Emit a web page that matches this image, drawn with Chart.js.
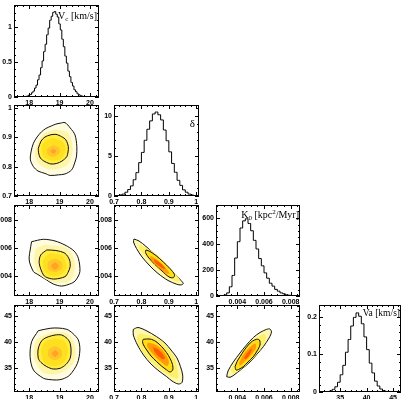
<!DOCTYPE html>
<html>
<head>
<meta charset="utf-8">
<script src="https://cdn.jsdelivr.net/npm/chart.js@4.4.1/dist/chart.umd.min.js"></script>
<style>
  html, body { margin: 0; padding: 0; background: #fff; }
  body { position: relative; width: 403px; height: 399px; overflow: hidden; }
  canvas { position: absolute; }
</style>
</head>
<body>
<script>
// ---- 1D histograms (bin centre / height) ----
const vcX = [17.75,17.80,17.85,17.90,17.95,18.00,18.05,18.10,18.15,18.20,18.25,18.30,18.35,18.40,18.45,18.50,18.55,18.60,18.65,18.70,18.75,18.80,18.85,18.90,18.95,19.00,19.05,19.10,19.15,19.20,19.25,19.30,19.35,19.40,19.45,19.50,19.55,19.60,19.65,19.70,19.75,19.80,19.85,19.90,19.95];
const vcY = [0.002,0.003,0.006,0.009,0.014,0.026,0.036,0.061,0.084,0.128,0.171,0.247,0.316,0.421,0.518,0.651,0.757,0.893,0.989,1.102,1.158,1.214,1.226,1.188,1.147,1.049,0.962,0.829,0.722,0.587,0.486,0.371,0.292,0.209,0.158,0.104,0.077,0.047,0.033,0.019,0.013,0.007,0.004,0.002,0];

const dX = [0.705,0.715,0.725,0.735,0.745,0.755,0.765,0.775,0.785,0.795,0.805,0.815,0.825,0.835,0.845,0.855,0.865,0.875,0.885,0.895,0.905,0.915,0.925,0.935,0.945,0.955,0.965,0.975,0.985,0.995];
const dY = [0.03,0.06,0.14,0.24,0.47,0.81,1.27,2.04,2.93,4.18,5.46,6.98,8.36,9.41,10.28,10.52,10.18,9.53,8.27,6.92,5.53,4.08,2.97,1.96,1.33,0.77,0.47,0.24,0.13,0.06];

const kX = [0.0027,0.0029,0.0031,0.0033,0.0035,0.0037,0.0039,0.0041,0.0043,0.0045,0.0047,0.0049,0.0051,0.0053,0.0055,0.0057,0.0059,0.0061,0.0063,0.0065,0.0067,0.0069,0.0071,0.0073,0.0075,0.0077,0.0079,0.0081,0.0083,0.0085];
const kY = [0,2,9,24,71,158,292,418,523,578,594,558,502,428,362,288,232,178,137,98,76,51,37,24,17,10,6,3,1,0];

const vaX = [32.25,32.75,33.25,33.75,34.25,34.75,35.25,35.75,36.25,36.75,37.25,37.75,38.25,38.75,39.25,39.75,40.25,40.75,41.25,41.75,42.25,42.75,43.25,43.75,44.25];
const vaY = [0.0005,0.0013,0.003,0.007,0.014,0.026,0.046,0.071,0.106,0.140,0.176,0.199,0.211,0.202,0.182,0.147,0.113,0.077,0.051,0.029,0.016,0.008,0.004,0.0015,0.0005];

// ---- 2D contours, outer -> inner ----
// delta vs Vc
const aOuter = [[19.02,0.948],[19.18,0.950],[19.35,0.932],[19.51,0.908],[19.57,0.868],[19.56,0.836],[19.51,0.816],[19.40,0.789],[19.18,0.775],[18.96,0.772],[18.69,0.770],[18.52,0.777],[18.29,0.785],[18.14,0.800],[18.04,0.823],[18.06,0.850],[18.14,0.880],[18.26,0.901],[18.41,0.919],[18.55,0.930],[18.74,0.939],[18.88,0.945]];
const aMid = [[18.88,0.927],[19.31,0.911],[19.43,0.857],[19.25,0.806],[18.72,0.790],[18.32,0.809],[18.19,0.848],[18.46,0.910]];
const aInner = [[18.30,0.862],[18.39,0.887],[18.52,0.901],[18.69,0.908],[18.88,0.910],[19.07,0.902],[19.21,0.891],[19.29,0.868],[19.28,0.850],[19.24,0.834],[19.08,0.819],[18.91,0.811],[18.72,0.809],[18.52,0.817],[18.37,0.829],[18.31,0.847]];
const aBright = [[18.80,0.898],[19.11,0.884],[19.20,0.857],[19.05,0.828],[18.75,0.821],[18.46,0.836],[18.41,0.867],[18.55,0.889]];
const aOrange = [[18.80,0.874],[18.98,0.864],[19.00,0.847],[18.82,0.834],[18.62,0.840],[18.60,0.861]];
const aDeep = [[18.80,0.862],[18.90,0.853],[18.80,0.843],[18.70,0.853]];

// K0 vs Vc
const bOuter = [[18.08,0.00648],[18.47,0.00665],[18.85,0.00653],[19.18,0.00624],[19.48,0.00581],[19.62,0.00529],[19.67,0.00434],[19.54,0.00374],[19.40,0.00351],[19.07,0.00331],[18.79,0.00346],[18.58,0.00374],[18.26,0.00417],[18.14,0.00434],[18.00,0.00517],[18.05,0.00612]];
const bMid = [[18.52,0.00627],[19.28,0.00596],[19.51,0.00481],[19.35,0.00371],[18.85,0.00356],[18.36,0.00410],[18.17,0.00503],[18.23,0.00596]];
const bInner = [[18.58,0.00589],[18.88,0.00585],[19.18,0.00565],[19.33,0.00517],[19.35,0.00469],[19.28,0.00428],[19.18,0.00398],[18.85,0.00381],[18.62,0.00389],[18.47,0.00410],[18.33,0.00494],[18.38,0.00553]];
const bBright = [[18.69,0.00567],[19.08,0.00546],[19.23,0.00474],[19.08,0.00417],[18.75,0.00403],[18.49,0.00446],[18.46,0.00517]];
const bOrange = [[18.85,0.00528],[19.07,0.00503],[19.08,0.00456],[18.85,0.00431],[18.62,0.00453],[18.64,0.00506]];
const bDeep = [[18.85,0.00503],[18.98,0.00474],[18.85,0.00446],[18.72,0.00474]];

// K0 vs delta
const cOuter = [[0.7729,0.00667],[0.7912,0.00653],[0.8167,0.00614],[0.8557,0.00544],[0.8896,0.00481],[0.9225,0.00417],[0.9443,0.00371],[0.9527,0.00349],[0.9443,0.00339],[0.9287,0.00344],[0.8969,0.00371],[0.8605,0.00421],[0.8313,0.00474],[0.8021,0.00539],[0.7821,0.00599],[0.7711,0.00646]];
const cMid = [[0.7948,0.00628],[0.8532,0.00560],[0.9115,0.00446],[0.9407,0.00374],[0.9261,0.00364],[0.8678,0.00442],[0.8131,0.00546],[0.7912,0.00603]];
const cInner = [[0.8167,0.00589],[0.8313,0.00578],[0.8532,0.00549],[0.8798,0.00503],[0.9042,0.00456],[0.9206,0.00414],[0.9163,0.00391],[0.9006,0.00396],[0.8751,0.00439],[0.8495,0.00485],[0.8276,0.00531],[0.8149,0.00571]];
const cOrange = [[0.8349,0.00546],[0.8605,0.00514],[0.8896,0.00456],[0.9024,0.00421],[0.8915,0.00421],[0.8641,0.00460],[0.8386,0.00510],[0.8313,0.00535]];
const cRed = [[0.8459,0.00524],[0.8714,0.00492],[0.8878,0.00456],[0.8751,0.00460],[0.8495,0.00499]];

// Va vs Vc
const dOuter = [[18.30,42.17],[18.69,42.63],[18.95,42.68],[19.24,42.43],[19.44,41.63],[19.62,40.38],[19.67,38.46],[19.59,35.91],[19.34,33.66],[19.11,32.90],[18.91,32.70],[18.65,32.80],[18.47,33.03],[18.14,34.62],[18.03,37.18],[18.08,40.05]];
const dMid = [[18.75,41.92],[19.28,41.53],[19.53,38.85],[19.46,35.97],[19.02,34.05],[18.49,34.05],[18.16,36.93],[18.24,40.38]];
const dInner = [[18.63,41.01],[18.85,41.34],[19.07,41.34],[19.25,40.67],[19.35,39.75],[19.38,38.27],[19.35,36.87],[19.21,35.68],[19.02,34.95],[18.79,34.81],[18.58,35.26],[18.39,36.06],[18.30,36.87],[18.29,38.46],[18.36,39.75],[18.47,40.57]];
const dBright = [[18.85,40.67],[19.16,40.19],[19.28,38.46],[19.18,36.35],[18.88,35.39],[18.52,35.97],[18.39,38.08],[18.52,40.0]];
const dOrange = [[18.85,39.23],[19.05,38.56],[19.07,37.21],[18.85,36.54],[18.64,37.12],[18.64,38.56]];
const dDeep = [[18.85,38.46],[18.97,37.79],[18.85,37.12],[18.74,37.79]];

// Va vs delta
const eOuter = [[0.7704,42.43],[0.7875,42.78],[0.8167,42.20],[0.8557,41.01],[0.8860,39.80],[0.9079,38.46],[0.9298,36.93],[0.9425,35.26],[0.9505,33.66],[0.9480,32.22],[0.9345,31.94],[0.9115,32.51],[0.8922,33.34],[0.8641,34.43],[0.8349,35.77],[0.8076,37.50],[0.7857,39.42],[0.7704,41.34]];
const eMid = [[0.7948,41.63],[0.8641,40.57],[0.9188,37.12],[0.9334,33.09],[0.9115,33.28],[0.8568,35.20],[0.7985,38.46],[0.7839,40.76]];
const eInner = [[0.8069,40.52],[0.8313,40.57],[0.8532,40.09],[0.8740,39.10],[0.8915,37.98],[0.9042,36.87],[0.9134,35.68],[0.9141,34.62],[0.9042,34.24],[0.8922,34.62],[0.8732,35.39],[0.8557,36.22],[0.8349,37.31],[0.8193,38.46],[0.8076,39.42],[0.8039,40.09]];
const eOrange = [[0.8240,39.90],[0.8532,39.42],[0.8823,38.08],[0.9006,36.16],[0.8933,35.39],[0.8678,36.35],[0.8386,37.89],[0.8204,39.23]];
const eRed = [[0.8422,39.04],[0.8641,38.46],[0.8860,36.93],[0.8751,36.73],[0.8495,37.98]];

// Va vs K0
const fOuter = [[0.00320,33.34],[0.00330,34.43],[0.00370,36.16],[0.00420,37.89],[0.00465,39.33],[0.00520,40.86],[0.00570,41.82],[0.00620,42.43],[0.00645,42.49],[0.00656,41.92],[0.00638,40.76],[0.00595,39.10],[0.00548,37.69],[0.00495,36.16],[0.00428,34.72],[0.00375,33.66],[0.00345,33.22]];
const fMid = [[0.00349,34.62],[0.00420,37.50],[0.00510,40.09],[0.00600,41.53],[0.00615,40.38],[0.00533,37.31],[0.00435,34.91],[0.00368,33.95]];
const fInner = [[0.00383,35.26],[0.00398,36.25],[0.00420,37.18],[0.00450,38.37],[0.00482,39.42],[0.00514,40.19],[0.00545,40.52],[0.00566,40.38],[0.00570,39.42],[0.00548,38.27],[0.00520,37.18],[0.00480,36.16],[0.00445,35.26],[0.00409,34.72],[0.00390,34.62]];
const fOrange = [[0.00413,35.97],[0.00443,37.50],[0.00488,38.85],[0.00533,39.71],[0.00540,38.85],[0.00503,37.50],[0.00458,36.35],[0.00420,35.49]];
const fRed = [[0.00450,36.93],[0.00480,38.08],[0.00510,38.75],[0.00495,37.69],[0.00465,36.73]];

// ---- axes: ticks + labels ----
const vcTicks = [18, 19, 20],           vcLabels = ['18', '19', '20'];
const dTicks = [0.7, 0.8, 0.9, 1],      dLabels = ['0.7', '0.8', '0.9', '1'];
const kTicks = [0.004, 0.006, 0.008],   kLabelsX = ['0.004', '0.006', '0.008'], kLabelsY = ['.004', '.006', '.008'];
const vaTicks = [35, 40, 45],           vaLabels = ['35', '40', '45'];
const vcHTicks = [0, 0.5, 1],           vcHLabels = ['0', '0.5', '1'];
const dHTicks = [0, 5, 10],             dHLabels = ['0', '5', '10'];
const kHTicks = [0, 200, 400, 600],     kHLabels = ['0', '200', '400', '600'];
const vaHTicks = [0, 0.1, 0.2],         vaHLabels = ['0', '0.1', '0.2'];

// ---- layout of the pads (frame pixels) ----
const colFrames = [[14, 99], [114, 199], [216, 300], [319, 401]];
const rowFrames = [[5, 97], [105, 196], [205, 296], [305, 392]];
const PAD_L = 17, PAD_T = 5, PAD_R = 3, PAD_B = 12;

const WIDE = ['#fffce0', '#fff5a8', '#ffec3c', '#ffe020', '#ffc52a', '#ffa524'];
const NARROW = ['#fff8ae', '#fff06a', '#ffdc14', '#ff9a08', '#ff5a00'];

const AX = {
  vc:  { range: [17.5, 20.3],      ticks: vcTicks, labels: vcLabels, minor: 0.2 },
  d:   { range: [0.7, 1.01],       ticks: dTicks,  labels: dLabels,  minor: 0.02 },
  kx:  { range: [0.0024, 0.0087],  ticks: kTicks,  labels: kLabelsX, minor: 0.0005 },
  ky:  { range: [0.0026, 0.0091],  ticks: kTicks,  labels: kLabelsY, minor: 0.0005 },
  vax: { range: [31, 46.5],        ticks: vaTicks, labels: vaLabels, minor: 1 },
  vay: { range: [30.4, 47.1],      ticks: vaTicks, labels: vaLabels, minor: 1 },
  vcH: { range: [0, 1.32],         ticks: vcHTicks, labels: vcHLabels, minor: 0.1 },
  dH:  { range: [0, 11.4],         ticks: dHTicks,  labels: dHLabels,  minor: 1 },
  kH:  { range: [0, 700],          ticks: kHTicks,  labels: kHLabels,  minor: 50 },
  vaH: { range: [0, 0.232],        ticks: vaHTicks, labels: vaHLabels, minor: 0.02 }
};

function hist(xs, ys) {
  return {
    data: xs.map((x, i) => ({ x: x, y: ys[i] })),
    showLine: true, stepped: 'middle', borderColor: '#000', borderWidth: 1,
    pointRadius: 0, fill: false, order: 0
  };
}

function blob(pts, color, outline, order) {
  const d = pts.map(p => ({ x: p[0], y: p[1] }));
  d.push({ x: pts[0][0], y: pts[0][1] });
  return {
    data: d, showLine: true, fill: 'shape', tension: 0.3,
    backgroundColor: color, borderColor: outline ? '#111' : color,
    borderWidth: outline ? 1 : 0, pointRadius: 0, order: order
  };
}

// list of [points, colour, outlined], outer first
function layers(list) {
  return list.map((l, i) => blob(l[0], l[1], l[2], list.length - i + 1));
}

function minorList(min, max, step) {
  const out = [];
  for (let k = Math.ceil(min / step - 1e-6); k * step <= max + 1e-9; k++) out.push(k * step);
  return out;
}

// ROOT-like frame: box, inward ticks on all four sides, title text
const rootFrame = {
  id: 'rootFrame',
  afterDatasetsDraw(chart, args, opts) {
    const { ctx, chartArea: a, scales: { x, y } } = chart;
    ctx.save();
    ctx.strokeStyle = '#000';
    ctx.lineWidth = 1;
    ctx.strokeRect(a.left + 0.5, a.top + 0.5, a.right - a.left - 1, a.bottom - a.top - 1);
    ctx.beginPath();
    const xa = opts.xa, ya = opts.ya;
    minorList(xa.range[0], xa.range[1], xa.minor).forEach(v => {
      const major = xa.ticks.some(t => Math.abs(t - v) < xa.minor / 10);
      const L = major ? 4 : 2;
      const px = Math.round(x.getPixelForValue(v)) + 0.5;
      ctx.moveTo(px, a.bottom); ctx.lineTo(px, a.bottom - L);
      ctx.moveTo(px, a.top); ctx.lineTo(px, a.top + L);
    });
    minorList(ya.range[0], ya.range[1], ya.minor).forEach(v => {
      const major = ya.ticks.some(t => Math.abs(t - v) < ya.minor / 10);
      const L = major ? 4 : 2;
      const py = Math.round(y.getPixelForValue(v)) + 0.5;
      ctx.moveTo(a.left, py); ctx.lineTo(a.left + L, py);
      ctx.moveTo(a.right, py); ctx.lineTo(a.right - L, py);
    });
    ctx.stroke();
    if (opts.title) {
      const T = opts.title;
      const fnt = p => p[1] + 'px "Liberation Serif", "DejaVu Serif", serif';
      let w = 0;
      T.parts.forEach(p => { ctx.font = fnt(p); w += ctx.measureText(p[0]).width; });
      let tx = a.right - T.dx - w;
      ctx.fillStyle = '#000';
      ctx.textBaseline = 'alphabetic';
      T.parts.forEach(p => {
        ctx.font = fnt(p);
        ctx.fillText(p[0], tx, a.top + T.dy + (p[2] || 0));
        tx += ctx.measureText(p[0]).width;
      });
    }
    ctx.restore();
  }
};

function axisCfg(ax, isX) {
  return {
    type: 'linear', min: ax.range[0], max: ax.range[1], bounds: 'data',
    afterBuildTicks: s => { s.ticks = ax.ticks.map(v => ({ value: v })); },
    afterFit: s => {
      if (isX) s.height = PAD_B; else s.width = PAD_L;
      s.paddingLeft = 0; s.paddingRight = 0; s.paddingTop = 0; s.paddingBottom = 0;
    },
    grid: { display: false, drawTicks: false },
    border: { display: false },
    ticks: {
      color: '#000', padding: isX ? 2 : 2, autoSkip: false, maxRotation: 0, minRotation: 0,
      font: { family: 'Liberation Sans', size: 7, weight: 'bold' },
      callback: (v, i) => ax.labels[i]
    }
  };
}

function panel(c, r, xa, ya, datasets, title) {
  const [fl, fr] = colFrames[c];
  const [ft, fb] = rowFrames[r];
  const W = fr - fl + PAD_L + PAD_R, H = fb - ft + PAD_T + PAD_B;
  const cv = document.createElement('canvas');
  cv.width = W; cv.height = H;
  cv.style.left = (fl - PAD_L) + 'px';
  cv.style.top = (ft - PAD_T) + 'px';
  cv.style.width = W + 'px';
  cv.style.height = H + 'px';
  document.body.appendChild(cv);
  new Chart(cv, {
    type: 'scatter',
    data: { datasets: datasets },
    options: {
      responsive: false, animation: false, devicePixelRatio: 1, events: [],
      layout: { padding: { left: 0, top: PAD_T, right: PAD_R, bottom: 0 } },
      plugins: {
        legend: { display: false }, tooltip: { enabled: false },
        rootFrame: { xa: xa, ya: ya, title: title }
      },
      scales: { x: axisCfg(xa, true), y: axisCfg(ya, false) }
    },
    plugins: [rootFrame]
  });
}

// row 0
panel(0, 0, AX.vc, AX.vcH, [hist(vcX, vcY)],
  { parts: [['V', 10], ['c', 7, 2], [' [km/s]', 10]], dx: 2, dy: 14 });

// row 1
panel(0, 1, AX.vc, AX.d, layers([[aOuter, WIDE[0], true], [aMid, WIDE[1], false], [aInner, WIDE[2], true],
  [aBright, WIDE[3], false], [aOrange, WIDE[4], false], [aDeep, WIDE[5], false]]));
panel(1, 1, AX.d, AX.dH, [hist(dX, dY)],
  { parts: [['\u03b4', 11]], dx: 4, dy: 22 });

// row 2
panel(0, 2, AX.vc, AX.ky, layers([[bOuter, WIDE[0], true], [bMid, WIDE[1], false], [bInner, WIDE[2], true],
  [bBright, WIDE[3], false], [bOrange, WIDE[4], false], [bDeep, WIDE[5], false]]));
panel(1, 2, AX.d, AX.ky, layers([[cOuter, NARROW[0], true], [cMid, NARROW[1], false], [cInner, NARROW[2], true],
  [cOrange, NARROW[3], false], [cRed, NARROW[4], false]]));
panel(2, 2, AX.kx, AX.kH, [hist(kX, kY)],
  { parts: [['K', 10], ['0', 7, 2], [' [kpc', 10], ['2', 7, -4], ['/Myr]', 10]], dx: 1, dy: 13 });

// row 3
panel(0, 3, AX.vc, AX.vay, layers([[dOuter, WIDE[0], true], [dMid, WIDE[1], false], [dInner, WIDE[2], true],
  [dBright, WIDE[3], false], [dOrange, WIDE[4], false], [dDeep, WIDE[5], false]]));
panel(1, 3, AX.d, AX.vay, layers([[eOuter, NARROW[0], true], [eMid, NARROW[1], false], [eInner, NARROW[2], true],
  [eOrange, NARROW[3], false], [eRed, NARROW[4], false]]));
panel(2, 3, AX.kx, AX.vay, layers([[fOuter, NARROW[0], true], [fMid, NARROW[1], false], [fInner, NARROW[2], true],
  [fOrange, NARROW[3], false], [fRed, NARROW[4], false]]));
panel(3, 3, AX.vax, AX.vaH, [hist(vaX, vaY)],
  { parts: [['Va [km/s]', 9.5]], dx: 1, dy: 11 });
</script>
</body>
</html>
